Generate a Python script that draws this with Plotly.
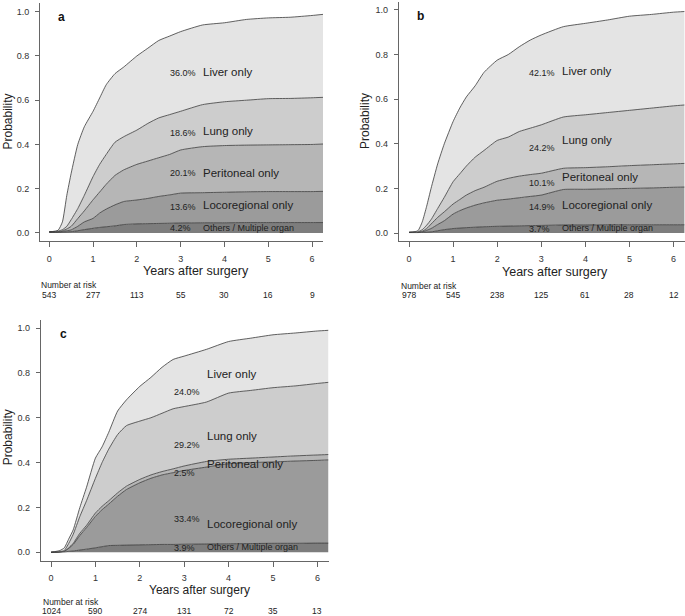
import plotly.graph_objects as go

W, H = 685, 616

# ---------------- data ----------------
years = [0, 0.2, 0.3, 0.4, 0.5, 0.65, 0.8, 1.0, 1.15, 1.3, 1.5, 1.7, 2.0, 2.25, 2.5,
         2.75, 3.0, 3.5, 4.0, 4.5, 5.0, 5.5, 6.0, 6.25]

categories = ["Others / Multiple organ", "Locoregional only", "Peritoneal only",
              "Lung only", "Liver only"]

# cumulative (stacked) boundaries, from bottom layer to top
a_others = [0.003, 0.003, 0.004, 0.005, 0.006, 0.01, 0.015, 0.021, 0.025, 0.028, 0.032, 0.038, 0.041, 0.042,
            0.043, 0.044, 0.045, 0.046, 0.046, 0.047, 0.047, 0.047, 0.047, 0.047]
a_loco = [0.005, 0.005, 0.007, 0.01, 0.014, 0.03, 0.05, 0.066, 0.09, 0.108, 0.127, 0.142, 0.149, 0.156,
          0.165, 0.172, 0.18, 0.182, 0.184, 0.186, 0.187, 0.187, 0.187, 0.188]
a_perit = [0.005, 0.006, 0.01, 0.018, 0.03, 0.065, 0.10, 0.15, 0.185, 0.22, 0.26, 0.285, 0.31, 0.325,
           0.34, 0.355, 0.375, 0.39, 0.395, 0.397, 0.398, 0.399, 0.40, 0.402]
a_lung = [0.005, 0.008, 0.015, 0.03, 0.06, 0.11, 0.17, 0.255, 0.31, 0.355, 0.41, 0.435, 0.465, 0.495,
          0.52, 0.535, 0.55, 0.58, 0.593, 0.60, 0.607, 0.608, 0.611, 0.613]
a_liver = [0.005, 0.012, 0.05, 0.17, 0.27, 0.40, 0.48, 0.55, 0.61, 0.67, 0.72, 0.75, 0.80, 0.835,
           0.87, 0.89, 0.91, 0.94, 0.95, 0.965, 0.972, 0.975, 0.983, 0.988]

b_others = [0.002, 0.002, 0.003, 0.004, 0.005, 0.01, 0.015, 0.02, 0.022, 0.024, 0.026, 0.028, 0.03, 0.031,
            0.032, 0.033, 0.034, 0.036, 0.036, 0.037, 0.037, 0.037, 0.037, 0.037]
b_loco = [0.003, 0.003, 0.005, 0.012, 0.02, 0.038, 0.055, 0.085, 0.10, 0.112, 0.125, 0.135, 0.147, 0.152,
          0.158, 0.164, 0.17, 0.195, 0.196, 0.198, 0.20, 0.202, 0.205, 0.206]
b_perit = [0.003, 0.004, 0.008, 0.02, 0.04, 0.07, 0.095, 0.13, 0.15, 0.17, 0.19, 0.205, 0.232, 0.245,
           0.255, 0.262, 0.268, 0.29, 0.293, 0.297, 0.302, 0.306, 0.31, 0.312]
b_lung = [0.003, 0.005, 0.015, 0.035, 0.06, 0.11, 0.16, 0.23, 0.265, 0.30, 0.34, 0.37, 0.415, 0.43,
          0.455, 0.47, 0.485, 0.52, 0.53, 0.54, 0.55, 0.56, 0.57, 0.574]
b_liver = [0.003, 0.01, 0.05, 0.12, 0.20, 0.31, 0.40, 0.50, 0.56, 0.61, 0.66, 0.72, 0.775, 0.80,
           0.835, 0.865, 0.888, 0.925, 0.94, 0.955, 0.972, 0.98, 0.99, 0.993]

c_others = [0.0, 0.001, 0.002, 0.004, 0.006, 0.01, 0.014, 0.02, 0.025, 0.03, 0.031, 0.032, 0.033, 0.034,
            0.035, 0.035, 0.036, 0.037, 0.038, 0.039, 0.04, 0.04, 0.041, 0.041]
c_loco = [0.0, 0.002, 0.005, 0.018, 0.035, 0.075, 0.11, 0.16, 0.19, 0.215, 0.25, 0.28, 0.31, 0.33,
          0.345, 0.355, 0.365, 0.38, 0.395, 0.40, 0.403, 0.407, 0.41, 0.412]
c_perit = [0.0, 0.002, 0.005, 0.02, 0.04, 0.085, 0.12, 0.175, 0.205, 0.23, 0.265, 0.295, 0.325, 0.345,
           0.36, 0.372, 0.385, 0.405, 0.415, 0.42, 0.425, 0.43, 0.434, 0.436]
c_lung = [0.0, 0.003, 0.008, 0.04, 0.08, 0.16, 0.23, 0.33, 0.40, 0.46, 0.525, 0.565, 0.585, 0.60,
          0.62, 0.64, 0.65, 0.67, 0.71, 0.722, 0.734, 0.742, 0.753, 0.758]
c_liver = [0.0, 0.008, 0.02, 0.06, 0.10, 0.20, 0.29, 0.42, 0.47, 0.535, 0.63, 0.68, 0.74, 0.78,
           0.825, 0.86, 0.875, 0.905, 0.94, 0.955, 0.97, 0.978, 0.987, 0.99]

a_pct = ["4.2%", "13.6%", "20.1%", "18.6%", "36.0%"]
b_pct = ["3.7%", "14.9%", "10.1%", "24.2%", "42.1%"]
c_pct = ["3.9%", "33.4%", "2.5%", "29.2%", "24.0%"]

risk_times = [0, 1, 2, 3, 4, 5, 6]
a_risk = [543, 277, 113, 55, 30, 16, 9]
b_risk = [978, 545, 238, 125, 61, 28, 12]
c_risk = [1024, 590, 274, 131, 72, 35, 13]

# ---------------- style ----------------
fills = ["#7d7d7d", "#9b9b9b", "#b6b6b6", "#cdcdcd", "#e4e4e4"]
line_col = "#3a3a3a"
txt = "#222222"
FONT = "Liberation Sans, Arial, Helvetica, sans-serif"

panels = [
    dict(key="a", layers=[a_others, a_loco, a_perit, a_lung, a_liver], pct=a_pct, risk=a_risk,
         xdom=(40, 323), ydom=(3.3, 240.7), xr=(-0.212, 6.25), yr=(-0.035, 1.038),
         pct_x=2.72, name_x=3.46,
         pct_y=[0.021, 0.119, 0.27, 0.45, 0.721], name_y=[0.024, 0.127, 0.273, 0.461, 0.729],
         title_x=195.5, title_y=271, title_size=12.5, prob_x=8, prob_y=121.5, lab=(61.7, 16.7),
         nar_x=39.3, nar_y=285, risk_y=295.5),
    dict(key="b", layers=[b_others, b_loco, b_perit, b_lung, b_liver], pct=b_pct, risk=b_risk,
         xdom=(398.7, 684.6), ydom=(1.7, 240.7), xr=(-0.234, 6.25), yr=(-0.0345, 1.037),
         pct_x=2.68, name_x=3.42,
         pct_y=[0.016, 0.118, 0.223, 0.383, 0.719], name_y=[0.021, 0.126, 0.253, 0.417, 0.726],
         title_x=555, title_y=272, title_size=12.5, prob_x=365, prob_y=121, lab=(420, 16),
         nar_x=399.3, nar_y=285.7, risk_y=295.5),
    dict(key="c", layers=[c_others, c_loco, c_perit, c_lung, c_liver], pct=c_pct, risk=c_risk,
         xdom=(40.7, 328.5), ydom=(320, 560.7), xr=(-0.232, 6.25), yr=(-0.0375, 1.036),
         pct_x=2.72, name_x=3.47,
         pct_y=[0.021, 0.149, 0.355, 0.478, 0.716], name_y=[0.024, 0.125, 0.392, 0.519, 0.795],
         title_x=199, title_y=590, title_size=12, prob_x=8.3, prob_y=437, lab=(64, 334),
         nar_x=40.7, nar_y=601.5, risk_y=610.5),
]

name_sizes = [9, 11.5, 11.5, 11.5, 11.5]

fig = go.Figure()
annotations = []
layout_axes = {}

for i, p in enumerate(panels):
    n = "" if i == 0 else str(i + 1)
    xa, ya = "x" + n, "y" + n
    for j, layer in enumerate(p["layers"]):
        fig.add_trace(go.Scatter(
            x=years, y=layer, mode="lines",
            line=dict(color=line_col, width=0.8, shape="spline", smoothing=0.5),
            fill="tozeroy" if j == 0 else "tonexty",
            fillcolor=fills[j], xaxis=xa, yaxis=ya,
            name=categories[j], showlegend=False, hoverinfo="skip"))
    layout_axes["xaxis" + n] = dict(
        domain=[p["xdom"][0] / W, p["xdom"][1] / W], range=list(p["xr"]), anchor=ya,
        tickvals=risk_times, ticktext=[str(t) for t in risk_times],
        showline=True, linecolor="#666666", linewidth=1, mirror=False,
        ticks="outside", ticklen=5, tickcolor="#666666", tickwidth=1,
        ticklabelstandoff=4 if i < 2 else 3,
        tickfont=dict(family=FONT, size=9, color="#333333"),
        showgrid=False, zeroline=False, fixedrange=True)
    layout_axes["yaxis" + n] = dict(
        domain=[1 - p["ydom"][1] / H, 1 - p["ydom"][0] / H], range=list(p["yr"]), anchor=xa,
        tickvals=[0, 0.2, 0.4, 0.6, 0.8, 1.0], tickformat=".1f",
        showline=True, linecolor="#666666", linewidth=1,
        ticks="outside", ticklen=4, tickcolor="#666666", tickwidth=1,
        ticklabelstandoff=4,
        tickfont=dict(family=FONT, size=9, color="#333333"),
        showgrid=False, zeroline=False, fixedrange=True)

    # percentage and category labels inside the plot
    for j in range(5):
        annotations.append(dict(
            x=p["pct_x"], y=p["pct_y"][j], xref=xa, yref=ya, text=p["pct"][j],
            showarrow=False, xanchor="left", yanchor="middle",
            font=dict(family=FONT, size=9, color=txt)))
        annotations.append(dict(
            x=p["name_x"], y=p["name_y"][j], xref=xa, yref=ya, text=categories[j],
            showarrow=False, xanchor="left", yanchor="middle",
            font=dict(family=FONT, size=name_sizes[j], color=txt)))

    # axis titles
    annotations.append(dict(
        x=p["title_x"] / W, y=1 - p["title_y"] / H, xref="paper", yref="paper",
        text="Years after surgery", showarrow=False, xanchor="center", yanchor="middle",
        font=dict(family=FONT, size=p["title_size"], color=txt)))
    annotations.append(dict(
        x=p["prob_x"] / W, y=1 - p["prob_y"] / H, xref="paper", yref="paper",
        text="Probability", showarrow=False, textangle=-90, xanchor="center", yanchor="middle",
        font=dict(family=FONT, size=12, color=txt)))
    # panel letter
    annotations.append(dict(
        x=p["lab"][0] / W, y=1 - p["lab"][1] / H, xref="paper", yref="paper",
        text="<b>" + p["key"] + "</b>", showarrow=False, xanchor="center", yanchor="middle",
        font=dict(family=FONT, size=12, color="#111111")))
    # number at risk
    annotations.append(dict(
        x=p["nar_x"] / W, y=1 - p["nar_y"] / H, xref="paper", yref="paper",
        text="Number at risk", showarrow=False, xanchor="left", yanchor="middle",
        font=dict(family=FONT, size=8.5, color=txt)))
    for t, r in zip(risk_times, p["risk"]):
        annotations.append(dict(
            x=t, y=1 - p["risk_y"] / H, xref=xa, yref="paper", text=str(r),
            showarrow=False, xanchor="center", yanchor="middle",
            font=dict(family=FONT, size=8.5, color=txt)))

fig.update_layout(
    width=W, height=H, margin=dict(l=0, r=0, t=0, b=0),
    paper_bgcolor="white", plot_bgcolor="white",
    annotations=annotations, showlegend=False, **layout_axes)

fig.write_html("out.html", config={"displayModeBar": False},
               post_script="document.body.style.margin='0px';document.body.style.padding='0px';")
